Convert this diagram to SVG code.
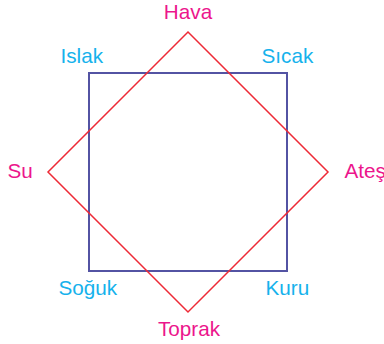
<svg xmlns="http://www.w3.org/2000/svg" width="384" height="344" viewBox="0 0 384 344">
<style>
text{font-family:"Liberation Sans",Arial,sans-serif;font-size:20.7px}
.el{fill:#ec168c}
.q{fill:#16b2ec}
.sq{fill:none;stroke:#5353a3;stroke-width:2}
.dm{fill:none;stroke:#ee2a36;stroke-width:1.5}
</style>
<rect width="384" height="344" fill="#fff"/>
<g id="connectors">
<rect class="sq" x="89" y="73" width="198" height="198"/>
<polygon class="dm" points="188,32 328,172 188,312 48,172"/>
</g>
<g id="hava"><text class="el" x="188" y="19" text-anchor="middle">Hava</text></g>
<g id="su"><text class="el" x="7.5" y="178">Su</text></g>
<g id="ates"><text class="el" x="344.5" y="178">Ateş</text></g>
<g id="toprak"><text class="el" x="189" y="336" text-anchor="middle">Toprak</text></g>
<g id="islak"><text class="q" x="60.5" y="63">Islak</text></g>
<g id="sicak"><text class="q" x="261.5" y="63">Sıcak</text></g>
<g id="soguk"><text class="q" x="58.5" y="295">Soğuk</text></g>
<g id="kuru"><text class="q" x="265.5" y="295">Kuru</text></g>
</svg>
